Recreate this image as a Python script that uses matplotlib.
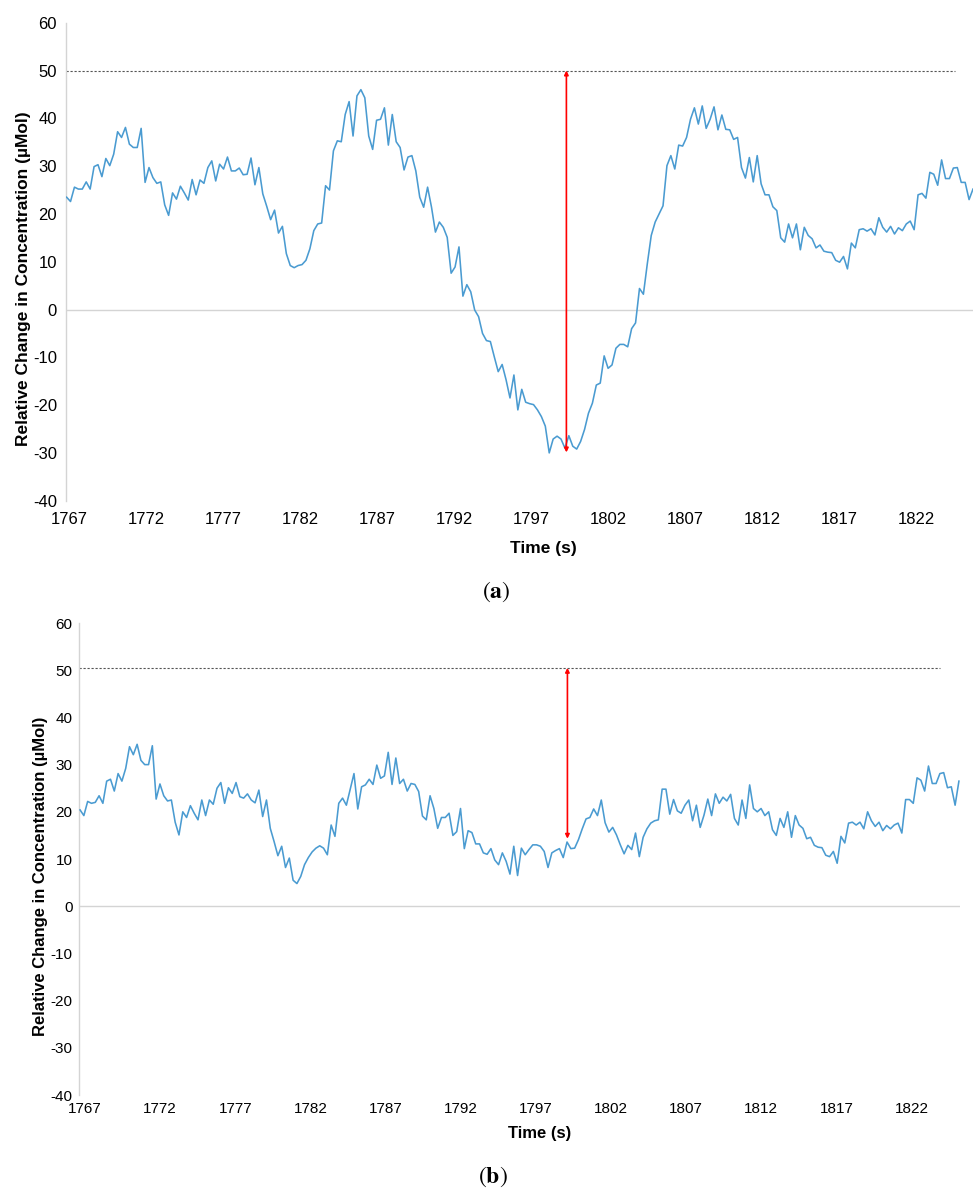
import matplotlib
matplotlib.use("Agg")
import matplotlib.pyplot as plt
import numpy as np

plt.rcParams['font.family'] = ['Liberation Sans', 'DejaVu Sans']
plt.rcParams['mathtext.fontset'] = 'stix'
plt.rcParams['axes.unicode_minus'] = False  # plain hyphen like the original

# --- data (approx. 4 samples per second) ---
conc_a = [
    23.5, 22.6, 25.6, 25.2, 25.2, 26.7, 25.2, 29.9, 30.3, 27.8,
    31.6, 30.1, 32.5, 37.2, 36.0, 38.1, 34.6, 33.9, 33.9, 37.9,
    26.6, 29.7, 27.6, 26.4, 26.7, 21.9, 19.7, 24.4, 23.1, 25.8,
    24.4, 22.9, 27.2, 24.0, 27.1, 26.4, 29.7, 31.1, 26.9, 30.4,
    29.4, 31.9, 29.0, 29.0, 29.6, 28.2, 28.3, 31.7, 26.1, 29.7,
    24.2, 21.6, 18.8, 20.8, 16.0, 17.4, 11.7, 9.2, 8.75, 9.2,
    9.4, 10.3, 12.7, 16.5, 17.9, 18.1, 25.9, 25.0, 33.2, 35.3,
    35.1, 40.8, 43.5, 36.3, 44.7, 46.0, 44.3, 36.3, 33.5, 39.6,
    39.8, 42.2, 34.4, 40.8, 35.1, 33.9, 29.2, 31.9, 32.2, 29.0,
    23.5, 21.4, 25.6, 21.4, 16.2, 18.3, 17.2, 15.1, 7.6, 8.9,
    13.1, 2.8, 5.2, 3.7, -0.1, -1.5, -5.0, -6.5, -6.7, -9.9,
    -13.0, -11.5, -14.7, -18.5, -13.7, -21.0, -16.7, -19.4, -19.7, -19.9,
    -21.0, -22.4, -24.4, -30.0, -27.1, -26.5, -27.1, -29.0, -26.4, -28.6,
    -29.2, -27.6, -25.1, -21.7, -19.6, -15.8, -15.4, -9.7, -12.3, -11.6,
    -8.1, -7.3, -7.3, -7.8, -4.0, -2.8, 4.4, 3.2, 9.6, 15.5,
    18.3, 20.0,
    21.7, 30.1, 32.2, 29.4, 34.4, 34.2, 36.0, 39.8, 42.2, 38.8,
    42.6, 37.9, 39.8, 42.4, 37.6, 40.7, 37.7, 37.6, 35.6, 36.0,
    29.7, 27.5, 31.8, 26.7, 32.2, 26.3, 24.0, 24.0, 21.5, 20.7,
    15.0, 14.1, 17.9, 15.0, 17.9, 12.5, 17.2, 15.5, 14.8, 12.9,
    13.5, 12.2, 12.0, 11.9, 10.3, 9.9, 11.1, 8.5, 13.9, 12.9,
    16.7, 16.9, 16.4, 16.9, 15.6, 19.2, 17.2, 16.2, 17.4, 15.8,
    17.1, 16.5, 17.9, 18.5, 16.7, 24.0, 24.3, 23.3, 28.7, 28.3,
    26.0, 31.3, 27.4, 27.4, 29.6, 29.7, 26.6, 26.6, 23.0, 25.2,
]

conc_b = [
    20.4, 19.2, 22.2, 21.8, 22.0, 23.4, 21.8, 26.5, 26.9, 24.4,
    28.1, 26.5, 29.2, 33.8, 32.1, 34.3, 30.9, 30.0, 30.0, 34.0,
    22.7, 25.9, 23.4, 22.3, 22.5, 17.8, 15.1, 20.0, 18.8, 21.3,
    19.7, 18.3, 22.5, 19.2, 22.5, 21.6, 25.0, 26.2, 21.8, 25.1,
    23.9, 26.2, 23.2, 22.9, 23.8, 22.5, 21.9, 24.6, 19.0, 22.5,
    16.5, 13.7, 10.7, 12.7, 8.2, 10.2, 5.5, 4.8, 6.3, 8.8,
    10.3, 11.5, 12.3, 12.8, 12.3, 10.9, 17.2, 14.8, 21.8,
    22.9, 21.4, 24.8, 28.1, 20.6, 25.3, 25.7, 26.9, 25.8, 29.9,
    27.1, 27.6, 32.6, 25.8, 31.4, 26.0, 26.9, 24.4, 26.0, 25.8,
    24.3, 19.1, 18.3, 23.4, 20.7, 16.5, 18.8, 18.8, 19.7, 15.0,
    15.8, 20.7, 12.2, 16.0, 15.6, 13.2, 13.2, 11.3, 11.0, 12.2,
    9.8, 8.8, 11.3, 9.5, 6.8, 12.7, 6.5, 12.3, 10.9, 12.0,
    13.0, 13.0, 12.7, 11.6, 8.2, 11.3, 11.8, 12.2, 10.3, 13.6,
    12.2, 12.3, 14.1, 16.4, 18.5, 18.8, 20.6, 19.2, 22.5, 17.7,
    15.7, 16.7, 15.1, 13.0, 11.1, 12.9, 12.0, 15.5, 10.5, 14.6,
    16.4, 17.6, 18.1, 18.3,
    24.8, 24.8, 19.5, 22.6, 20.2, 19.7, 21.4, 22.5, 18.1, 21.4,
    16.7, 19.3, 22.7, 19.2, 23.8, 21.8, 23.1, 22.3, 23.7, 18.6,
    17.2, 22.5, 18.6, 25.7, 20.7, 20.0, 20.7, 19.2, 20.0, 16.2,
    15.0, 18.6, 16.7, 20.0, 14.6, 19.2, 17.2, 16.5, 14.3, 14.6,
    12.9, 12.5, 12.4, 10.8, 10.5, 11.6, 9.1, 14.8, 13.4, 17.6,
    17.8, 17.2, 17.8, 16.4, 20.0, 18.1, 16.9, 17.8, 16.0, 17.1,
    16.4, 17.2, 17.6, 15.5, 22.6, 22.6, 21.8, 27.2, 26.7, 24.4,
    29.7, 26.0, 26.0, 28.1, 28.3, 25.1, 25.3, 21.4, 26.5,
]

time_span_a = (1766.85, 1825.7)   # first / last sample time (s)
time_span_b = (1766.67, 1825.15)
baseline = [50.0, 50.5]           # dotted reference level
arrow_time = [1799.3, 1799.1]
arrow_low = [-29.9, 14.3]
xticks = list(range(1767, 1823, 5))
yticks = list(range(-40, 61, 10))

LINE = '#4a9bd1'
GRID = '#d4d4d4'

fig = plt.figure(figsize=(9.73, 11.91), dpi=100)

panels = [
    dict(rect=[0.0675, 0.5796, 0.9325, 0.4013], xlim=(1766.79, 1825.7),
         t=np.linspace(*time_span_a, len(conc_a)), y=conc_a, dash_end=1824.5,
         tick_fs=12, lab_fs=12.5, ypad=6.3, xpad=8,
         ylab_xy=(-0.047, 0.464), xlab_xy=(0.526, -0.099)),
    dict(rect=[0.0815, 0.0806, 0.9051, 0.3963], xlim=(1766.62, 1825.22),
         t=np.linspace(*time_span_b, len(conc_b)), y=conc_b, dash_end=1823.9,
         tick_fs=11, lab_fs=12, ypad=4.8, xpad=5,
         ylab_xy=(-0.044, 0.4625), xlab_xy=(0.523, -0.0805)),
]

for i, p in enumerate(panels):
    ax = fig.add_axes(p['rect'])
    ax.plot(p['t'], p['y'], color=LINE, lw=1.15, zorder=3)

    # zero line + dotted reference line
    ax.axhline(0, color=GRID, lw=1.0, zorder=1)
    ax.plot([p['xlim'][0], p['dash_end']], [baseline[i], baseline[i]],
            color='#555555', lw=0.8, dashes=(2, 1.6), zorder=2)

    # red double arrow
    ax.annotate('', xy=(arrow_time[i], arrow_low[i]), xytext=(arrow_time[i], baseline[i]),
                arrowprops=dict(arrowstyle='<|-|>', color='red', lw=1.2,
                                mutation_scale=6, shrinkA=0, shrinkB=0), zorder=4)

    ax.set_xlim(*p['xlim'])
    ax.set_ylim(-40, 60)
    ax.set_xticks(xticks)
    ax.set_yticks(yticks)
    ax.tick_params(length=0, labelsize=p['tick_fs'])
    ax.tick_params(axis='y', pad=p['ypad'])
    ax.tick_params(axis='x', pad=p['xpad'])

    for s in ['top', 'right', 'bottom']:
        ax.spines[s].set_visible(False)
    ax.spines['left'].set_color(GRID)
    ax.spines['left'].set_linewidth(1.0)

    ax.set_ylabel('Relative Change in Concentration (µMol)', fontsize=p['lab_fs'],
                  fontweight='bold')
    ax.yaxis.set_label_coords(*p['ylab_xy'])
    ax.yaxis.label.set_va('center')
    ax.set_xlabel('Time (s)', fontsize=p['lab_fs'], fontweight='bold')
    ax.xaxis.set_label_coords(*p['xlab_xy'])
    ax.xaxis.label.set_va('center')

# panel letters
fig.text(496.7 / 973, 1 - 591.7 / 1191, r'$(\mathbf{a})$', fontsize=17,
         ha='center', va='center')
fig.text(493 / 973, 1 - 1177 / 1191, r'$(\mathbf{b})$', fontsize=17,
         ha='center', va='center')

fig.savefig('out.png', dpi=100, facecolor='white')
